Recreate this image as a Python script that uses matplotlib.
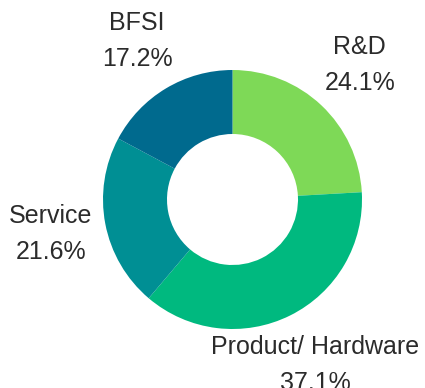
import matplotlib
matplotlib.use("Agg")
import matplotlib.pyplot as plt

plt.rcParams['font.family'] = ['Liberation Sans', 'DejaVu Sans']

segments = ["R&D", "Product/ Hardware", "Service", "BFSI"]
shares = [24.1, 37.1, 21.6, 17.2]
colors = ["#7ed957", "#00b97f", "#008f94", "#006a8e"]

fig = plt.figure(figsize=(4.25, 3.88), dpi=100)
ax = fig.add_axes([0, 0, 1, 1])

labels = ["%s\n%.1f%%" % (s, v) for s, v in zip(segments, shares)]
wedges, texts = ax.pie(shares, labels=labels, colors=colors, startangle=90,
                       counterclock=False, radius=129.5, center=(232.5, 188.5),
                       labeldistance=1.43, frame=True,
                       wedgeprops=dict(width=64, linewidth=0),
                       textprops=dict(fontsize=18, color="#2b2b2b"))
for t in texts:
    t.set_horizontalalignment("center")
    t.set_verticalalignment("center")
    t.set_linespacing(1.65)

ax.set_xlim(0, 425)
ax.set_ylim(0, 388)
ax.set_aspect("equal")
ax.axis("off")

fig.savefig("out.png", dpi=100)
